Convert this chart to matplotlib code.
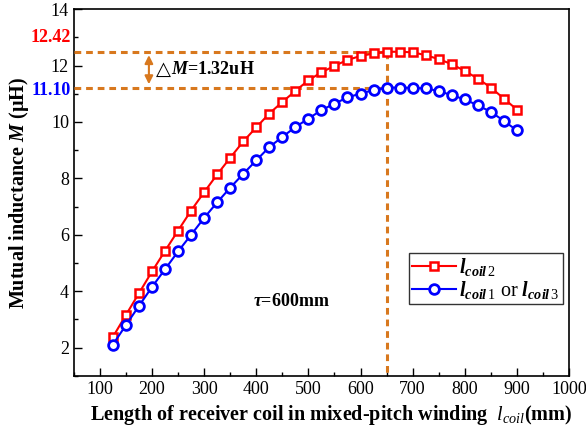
import matplotlib
matplotlib.use("Agg")
import matplotlib.pyplot as plt
from matplotlib.ticker import MultipleLocator

plt.rcParams['font.family'] = ['Liberation Serif', 'DejaVu Serif']
plt.rcParams['mathtext.fontset'] = 'custom'
plt.rcParams['mathtext.rm'] = 'Liberation Serif'
plt.rcParams['mathtext.it'] = 'Liberation Serif:italic'
plt.rcParams['mathtext.bf'] = 'Liberation Serif:bold'
plt.rcParams['mathtext.bfit'] = 'Liberation Serif:italic:bold'

# coil length (mm)
length = [125, 150, 175, 200, 225, 250, 275, 300, 325, 350, 375, 400, 425, 450, 475,
          500, 525, 550, 575, 600, 625, 650, 675, 700, 725, 750, 775, 800, 825, 850, 875, 900]
m_coil2 = [2.38, 3.16, 3.93, 4.70, 5.43, 6.15, 6.86, 7.51, 8.14, 8.73, 9.31, 9.81, 10.30, 10.71, 11.10,
           11.48, 11.76, 11.99, 12.20, 12.34, 12.43, 12.49, 12.49, 12.47, 12.37, 12.23, 12.05, 11.81,
           11.54, 11.22, 10.83, 10.44]
m_coil13 = [2.11, 2.80, 3.48, 4.15, 4.78, 5.41, 6.00, 6.60, 7.15, 7.67, 8.16, 8.64, 9.11, 9.47, 9.82,
            10.12, 10.42, 10.65, 10.87, 11.01, 11.13, 11.22, 11.22, 11.21, 11.19, 11.10, 10.95, 10.80,
            10.59, 10.36, 10.04, 9.70]
peak_x = 650
peak_labels = ["12.42", "11.10"]

orange = "#D8781E"

fig = plt.figure(figsize=(5.86, 4.37), dpi=100)
ax = fig.add_axes([0.126, 0.140, 0.845, 0.839])

ax.plot(length, m_coil2, color="red", lw=1.5, marker="s", ms=6.3, mfc="white", mec="red", mew=1.8,
        label=r"$\mathbfit{l}_{\mathbfit{coil}\,\mathrm{2}}$", zorder=4)
ax.plot(length, m_coil13, color="blue", lw=1.5, marker="o", ms=7, mfc="white", mec="blue", mew=2,
        label=r"$\mathbfit{l}_{\mathbfit{coil}\,\mathrm{1}}$ or $\mathbfit{l}_{\mathbfit{coil}\,\mathrm{3}}$", zorder=4)

top = max(m_coil2)
low = max(m_coil13)
dash = (0, (2.2, 1.6))
ax.plot([50, peak_x], [top, top], color=orange, lw=2.2, ls=dash, zorder=3)
ax.plot([50, peak_x], [low, low], color=orange, lw=2.2, ls=dash, zorder=3)
ax.plot([peak_x, peak_x], [top, 1], color=orange, lw=2.2, ls=dash, zorder=3)

ax.annotate("", xy=(194, top - 0.02), xytext=(194, low + 0.02),
            arrowprops=dict(arrowstyle="<|-|>", color=orange, lw=1.5, mutation_scale=12))
ax.text(208, (top + low) / 2, "△", fontsize=14, family="DejaVu Sans", va="center", ha="left")
ax.text(236, (top + low) / 2, r"$\mathbfit{M}$=1.32uH", fontsize=13, fontweight="bold",
        va="center", ha="left")
ax.text(393, 3.65, r"$\mathbfit{\tau}$=600mm", fontsize=13, fontweight="bold", va="center", ha="left")

trans = ax.get_yaxis_transform()
ax.text(-0.006, 13.0, peak_labels[0], color="red", fontsize=13, fontweight="bold",
        transform=trans, ha="right", va="center")
ax.text(-0.006, 11.12, peak_labels[1], color="blue", fontsize=13, fontweight="bold",
        transform=trans, ha="right", va="center")

ax.set_xlim(50, 1000)
ax.set_ylim(1, 14)
ax.xaxis.set_major_locator(MultipleLocator(100))
ax.xaxis.set_minor_locator(MultipleLocator(50))
ax.yaxis.set_major_locator(MultipleLocator(2))
ax.yaxis.set_minor_locator(MultipleLocator(1))
ax.tick_params(which="both", direction="in", labelsize=13, width=1)
ax.tick_params(which="major", length=6)
ax.tick_params(which="minor", length=3)
for s in ax.spines.values():
    s.set_linewidth(1.2)

ax.set_xlabel(r"Length of receiver coil in mixed-pitch winding  $\mathit{l}_{\mathit{coil}}$(mm)",
              fontsize=14.5, fontweight="bold", labelpad=4)
ax.xaxis.label.set_x(0.52)
ax.set_ylabel(r"Mutual inductance $\mathbfit{M}$ ($\mathbf{\mu}$H)", fontsize=14.5, fontweight="bold",
              labelpad=14)

leg = ax.legend(loc="upper left", bbox_to_anchor=(0.677, 0.335), fontsize=14.5, frameon=True,
                fancybox=False, edgecolor="black", handlelength=2.2, borderpad=0.15,
                labelspacing=0.05, handletextpad=0.15, borderaxespad=0)
leg.get_frame().set_linewidth(1)

fig.savefig("out.png", dpi=100)
